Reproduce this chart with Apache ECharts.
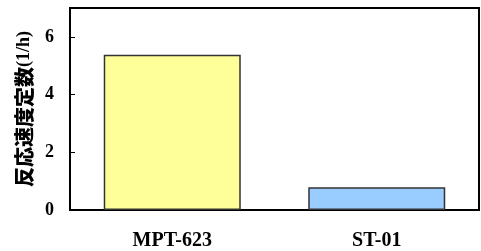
<!DOCTYPE html>
<html>
<head>
<meta charset="utf-8">
<script src="https://cdn.jsdelivr.net/npm/echarts@6/dist/echarts.min.js"></script>
<style>
  html, body { margin: 0; padding: 0; background: #fff; }
  #main { width: 481px; height: 251px; }
</style>
</head>
<body>
<div id="main"></div>
<script>
var categories = ["MPT-623", "ST-01"];
var rateValues = [5.38, 0.79];
var barColors = ["#FFFF99", "#99CCFF"];
var yTicks = [0, 2, 4, 6];

var chart = echarts.init(document.getElementById("main"));
var option = {
  animation: false,
  grid: {
    left: 70,
    right: 2,
    top: 8,
    bottom: 40,
    show: true,
    borderColor: "#000",
    borderWidth: 2,
    backgroundColor: "#fff"
  },
  xAxis: {
    type: "category",
    data: categories,
    axisLine: { lineStyle: { color: "#000", width: 2 } },
    axisTick: { inside: true, length: 6, lineStyle: { color: "#000", width: 1 } },
    axisLabel: {
      margin: 21,
      color: "#000",
      fontFamily: "Liberation Serif",
      fontWeight: "bold",
      fontSize: 20
    }
  },
  yAxis: {
    type: "value",
    min: 0,
    max: 7,
    interval: 2,
    name: "{a|反応速度定数}{b|(1/h)}",
    nameLocation: "middle",
    nameGap: 36,
    nameRotate: 90,
    nameTextStyle: {
      rich: {
        a: { fontFamily: "Noto Sans CJK JP", fontWeight: 900, fontSize: 20, color: "#000" },
        b: { fontFamily: "Liberation Serif", fontWeight: "bold", fontSize: 18, color: "#000" }
      }
    },
    axisLine: { show: true, lineStyle: { color: "#000", width: 2 } },
    axisTick: { show: true, inside: true, length: 5, lineStyle: { color: "#000", width: 1 } },
    splitLine: { show: false },
    axisLabel: {
      margin: 16,
      color: "#000",
      fontFamily: "Liberation Serif",
      fontWeight: "bold",
      fontSize: 18,
      formatter: function (v) {
        return yTicks.indexOf(v) >= 0 ? String(v) : "";
      }
    }
  },
  series: [
    {
      type: "bar",
      data: rateValues.map(function (v, i) {
        return { value: v, itemStyle: { color: barColors[i] } };
      }),
      barWidth: "67%",
      itemStyle: { borderColor: "#333", borderWidth: 1.5 }
    }
  ]
};
chart.setOption(option);
</script>
</body>
</html>
